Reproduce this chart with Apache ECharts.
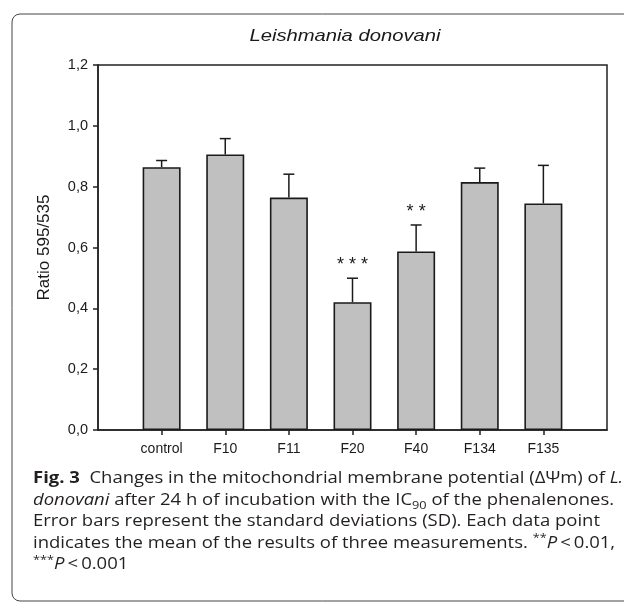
<!DOCTYPE html>
<html><head><meta charset="utf-8">
<script src="https://cdn.jsdelivr.net/npm/echarts@6/dist/echarts.min.js"></script>
<style>html,body{margin:0;padding:0;background:#fff}#c{width:624px;height:603px}</style>
</head><body><div id="c"></div>
<script>
// ---- data ----
const categories = ['control', 'F10', 'F11', 'F20', 'F40', 'F134', 'F135'];
const means = [0.864, 0.906, 0.764, 0.420, 0.587, 0.815, 0.745];
const sds = [0.022, 0.052, 0.077, 0.079, 0.087, 0.046, 0.125];
const sigMarks = ['', '', '', '***', '**', '', ''];
const yTickLabels = ['0,0', '0,2', '0,4', '0,6', '0,8', '1,0', '1,2'];
const titleText = 'Leishmania donovani';
const yAxisName = 'Ratio 595/535';

// padded category slots (one empty slot at each end)
const axisCats = [''].concat(categories, ['']);
const barData = ['-'].concat(means, ['-']);
const errData = categories.map((c, i) => [i + 1, means[i], sds[i]]);

const ink = '#1a1a1a';
const capInk = '#231f20';
const chart = echarts.init(document.getElementById('c'), null, {renderer: 'canvas'});

const T = '\u2009';
const caption = [
  '{b|Fig. 3}{n|  Changes in the mitochondrial membrane potential (ΔΨm) of }{i|L.}',
  '{i|donovani}{n| after 24 h of incubation with the IC}{sub|90}{n| of the phenalenones.}',
  '{n|Error bars represent the standard deviations (SD). Each data point}',
  '{n|indicates the mean of the results of three measurements. }{sup|**}{i|P}{n|' + T + '<' + T + '0.01,}',
  '{sup|***}{i|P}{n|' + T + '<' + T + '0.001}'
].join('\n');

chart.setOption({
  animation: false,
  backgroundColor: '#fff',
  grid: {left: 98, right: 17, top: 65, bottom: 173, show: true, borderColor: '#222', borderWidth: 1.5, backgroundColor: 'transparent'},
  xAxis: {
    type: 'category', data: axisCats, boundaryGap: false,
    axisLine: {lineStyle: {color: '#222', width: 1.5}},
    axisTick: {show: true, length: 5, interval: (idx) => idx > 0 && idx < axisCats.length - 1, lineStyle: {color: '#222', width: 1.5}},
    axisLabel: {interval: 0, fontSize: 14, fontFamily: 'Liberation Sans', color: ink, margin: 12},
    splitLine: {show: false}
  },
  yAxis: {
    type: 'value', min: 0, max: 1.2, interval: 0.2,
    name: yAxisName, nameLocation: 'middle', nameGap: 45,
    nameTextStyle: {fontSize: 17, fontFamily: 'Liberation Sans', color: ink},
    axisLine: {show: true, lineStyle: {color: '#222', width: 1.5}},
    axisTick: {show: true, length: 5, lineStyle: {color: '#222', width: 1.5}},
    axisLabel: {fontSize: 14.5, fontFamily: 'Liberation Sans', color: ink, margin: 10,
      formatter: (v) => yTickLabels[Math.round(v / 0.2)]},
    splitLine: {show: false}
  },
  series: [
    {
      type: 'bar', data: barData, barWidth: 38,
      itemStyle: {color: '#c0c0c0', borderColor: ink, borderWidth: 1.6},
      silent: true, z: 2
    },
    {
      type: 'custom', data: errData, z: 3, silent: true,
      renderItem: (params, api) => {
        const i = params.dataIndex;
        const x = api.value(0), m = api.value(1), s = api.value(2);
        const p0 = api.coord([x, m]);
        const p1 = api.coord([x, m + s]);
        const st = {stroke: ink, lineWidth: 1.5};
        const children = [
          {type: 'line', shape: {x1: p0[0], y1: p0[1], x2: p1[0], y2: p1[1]}, style: st},
          {type: 'line', shape: {x1: p1[0] - 5.5, y1: p1[1], x2: p1[0] + 5.5, y2: p1[1]}, style: st}
        ];
        if (sigMarks[i]) {
          children.push({type: 'text', x: p1[0], y: p1[1] - 13,
            style: {text: sigMarks[i].split('').join(' '), font: '18px "Liberation Sans"', fill: ink, align: 'center', verticalAlign: 'middle'}});
        }
        return {type: 'group', children};
      }
    }
  ],
  graphic: [
    {type: 'rect', shape: {x: 12, y: 14, width: 640, height: 587, r: 8}, style: {fill: 'none', stroke: '#444', lineWidth: 1}, z: 0},
    {type: 'text', x: 345, y: 36, scaleX: 1.19, style: {text: titleText, font: 'italic 17px "Liberation Sans"', fill: ink, align: 'center', verticalAlign: 'middle'}},
    {type: 'text', x: 33, y: 468, scaleX: 1.155, style: {
      text: caption, align: 'left', verticalAlign: 'top', lineHeight: 21.5, fill: capInk, font: '16px "Open Sans"',
      rich: {
        b: {fontFamily: 'Open Sans', fontWeight: 'bold', fontSize: 16, lineHeight: 21.5, fill: capInk},
        n: {fontFamily: 'Open Sans', fontSize: 16, lineHeight: 21.5, fill: capInk},
        i: {fontFamily: 'Open Sans', fontStyle: 'italic', fontSize: 16, lineHeight: 21.5, fill: capInk},
        sub: {fontFamily: 'Open Sans', fontSize: 11, lineHeight: 12, verticalAlign: 'bottom', fill: capInk},
        sup: {fontFamily: 'Open Sans', fontSize: 11, lineHeight: 14, verticalAlign: 'top', fill: capInk}
      }
    }}
  ]
});
</script>
</body></html>
